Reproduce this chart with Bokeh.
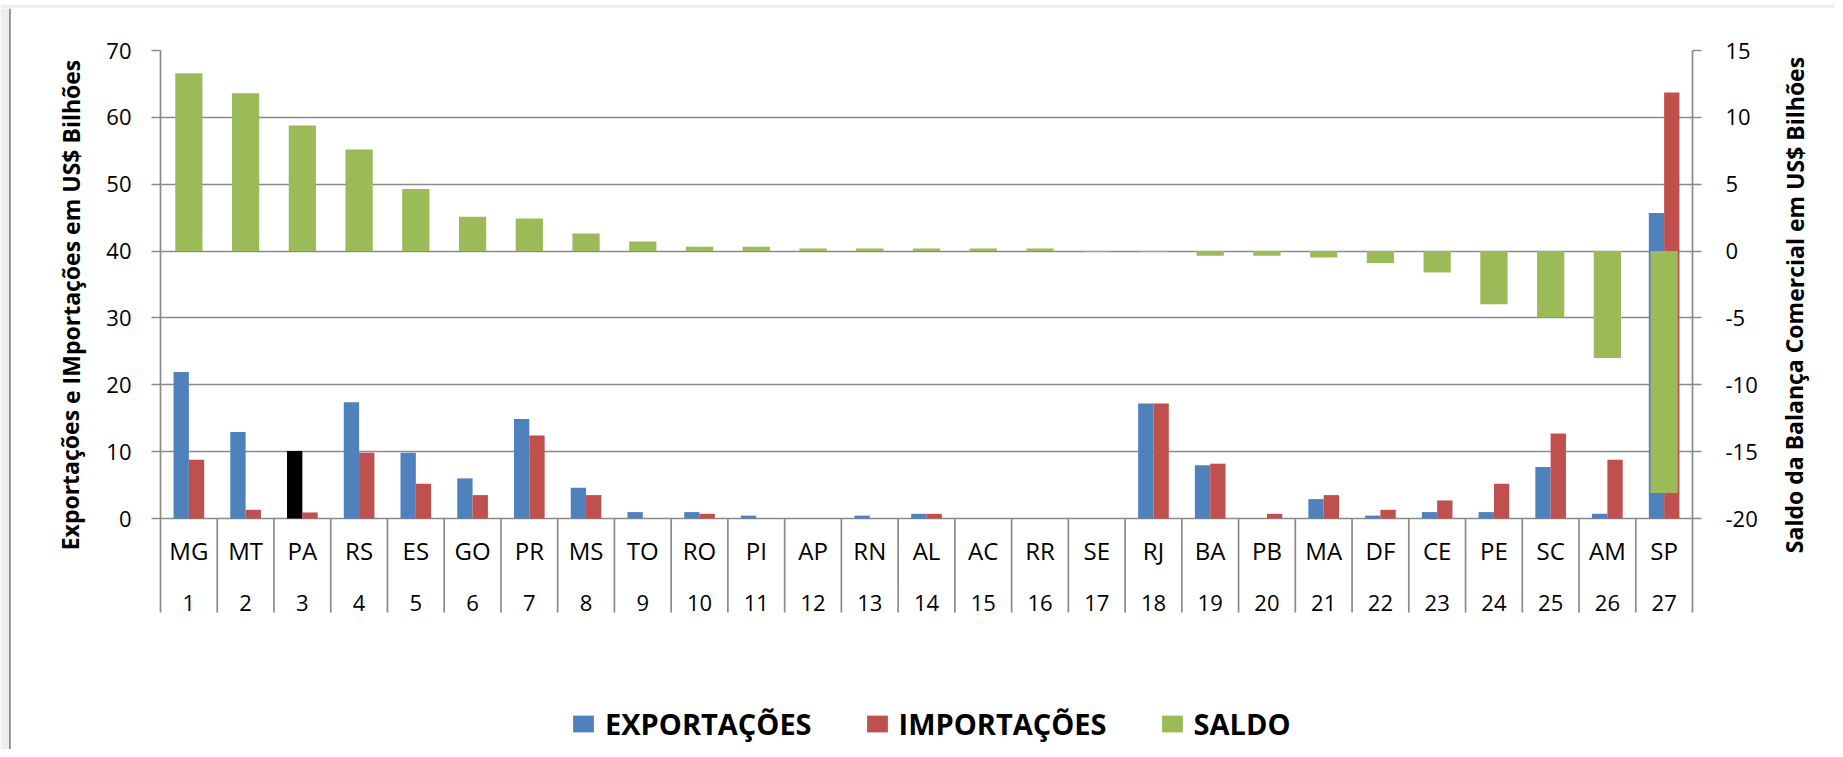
from bokeh.plotting import figure
from bokeh.layouts import row, column
from bokeh.models import (Range1d, LinearAxis, FixedTicker, Legend, LegendItem, ColumnDataSource,
                          CustomJSTickFormatter)
from bokeh.core.properties import value
from bokeh.embed import file_html
from bokeh.resources import INLINE

# ---------------- data ----------------
states = ["MG", "MT", "PA", "RS", "ES", "GO", "PR", "MS", "TO", "RO", "PI", "AP", "RN", "AL",
          "AC", "RR", "SE", "RJ", "BA", "PB", "MA", "DF", "CE", "PE", "SC", "AM", "SP"]
ranks = ["1", "2", "3", "4", "5", "6", "7", "8", "9", "10", "11", "12", "13", "14",
         "15", "16", "17", "18", "19", "20", "21", "22", "23", "24", "25", "26", "27"]
exportacoes = [21.9, 12.95, 10.1, 17.4, 9.85, 6.0, 14.9, 4.6, 0.96, 0.96, 0.43, 0.0, 0.43, 0.7,
               0.0, 0.0, 0.0, 17.2, 7.97, 0.0, 2.9, 0.43, 0.96, 0.96, 7.7, 0.7, 45.7]
importacoes = [8.8, 1.3, 0.9, 9.85, 5.2, 3.5, 12.4, 3.5, 0.0, 0.7, 0.0, 0.0, 0.0, 0.7,
               0.0, 0.0, 0.0, 17.2, 8.2, 0.7, 3.5, 1.3, 2.7, 5.2, 12.7, 8.8, 63.7]
saldo = [13.3, 11.8, 9.4, 7.6, 4.65, 2.57, 2.43, 1.31, 0.72, 0.32, 0.32, 0.19, 0.19, 0.2,
         0.2, 0.2, -0.05, -0.05, -0.35, -0.35, -0.48, -0.9, -1.6, -3.98, -4.95, -8.0, -18.1]
left_ticks = [0, 10, 20, 30, 40, 50, 60, 70]
right_ticks = [-20, -15, -10, -5, 0, 5, 10, 15]
series_names = ["EXPORTAÇÕES", "IMPORTAÇÕES", "SALDO"]
left_title = "Exportações e IMportações em US$ Bilhões"
right_title = "Saldo da Balança Comercial em US$ Bilhões"

# ---------------- style / layout (page pixels) ----------------
BLUE, RED, GREEN, BLACK = "#4F81BD", "#C0504D", "#9BBB59", "#000000"
GRID = "#8a8a8a"
PAGE_BG, FRAME_LINE = "#eceef0", "#8c8c8c"
FONT = "Open Sans"
PAGE_W, PAGE_H = 1835, 749
STRIP_H, LEFT_W, RIGHT_W = 8, 95, 65
FL, FR, FT = 160, 1692, 50          # plot frame left/right/top
ZERO_Y = 518.0                      # pixel of value 0
CAT_BOTTOM = 612.0                  # bottom of category separators
TITLE_CY = 304.5                    # vertical centre of the axis titles
LTITLE_X, RTITLE_X = 70, 1794
STATE_ROW, RANK_ROW = 550.0, 602.0

ppu_l = (ZERO_Y - FT) / (left_ticks[-1] - left_ticks[0])
ppu_r = (ZERO_Y - FT) / (right_ticks[-1] - right_ticks[0])
l_start = left_ticks[0] - (PAGE_H - ZERO_Y) / ppu_l
r_start = right_ticks[0] - (PAGE_H - ZERO_Y) / ppu_r
l_catb = left_ticks[0] - (CAT_BOTTOM - ZERO_Y) / ppu_l
r_catb = right_ticks[0] - (CAT_BOTTOM - ZERO_Y) / ppu_r

n = len(states)
centers = [i + 0.5 for i in range(n)]
bw = 0.27
exp_colors = [BLACK if s == "PA" else BLUE for s in states]

src = ColumnDataSource(dict(
    xe=[c - bw / 2 for c in centers], xi=[c + bw / 2 for c in centers], xc=centers,
    exp=exportacoes, imp=importacoes, sal=saldo, ec=exp_colors))


def no_align(f):
    if "frame_align" in f.properties():
        f.frame_align = False
    return f


MAIN_W = PAGE_W - LEFT_W - RIGHT_W
MAIN_H = PAGE_H - STRIP_H
p = figure(width=MAIN_W, height=MAIN_H, x_range=Range1d(0, n),
           y_range=Range1d(l_start, left_ticks[-1]), title=None,
           x_axis_type=None, output_backend="svg", toolbar_location=None,
           min_border_left=FL - LEFT_W, min_border_right=PAGE_W - RIGHT_W - FR,
           min_border_top=FT - STRIP_H, min_border_bottom=0)
no_align(p)
p.outline_line_color = None
p.background_fill_color = "white"
p.border_fill_color = "white"
p.extra_y_ranges = {"saldo": Range1d(r_start, right_ticks[-1])}

def style_axis(ax, ticks, bounds, standoff):
    ax.ticker = FixedTicker(ticks=ticks)
    ax.formatter = CustomJSTickFormatter(code="return tick.toFixed(0)")
    ax.bounds = bounds
    ax.axis_line_color = GRID
    ax.axis_line_width = 1.7
    ax.major_tick_line_color = GRID
    ax.major_tick_line_width = 1.7
    ax.major_tick_out = 9
    ax.major_tick_in = 0
    ax.minor_tick_line_color = None
    ax.major_label_text_font = FONT
    ax.major_label_text_font_size = "22px"
    ax.major_label_text_color = "black"
    ax.major_label_standoff = standoff

yl = p.yaxis[0]
style_axis(yl, left_ticks, (l_catb, left_ticks[-1]), 20)
yr = LinearAxis(y_range_name="saldo")
style_axis(yr, right_ticks, (r_catb, right_ticks[-1]), 24)
p.add_layout(yr, "right")

p.ygrid.grid_line_color = GRID
p.ygrid.grid_line_width = 1.7

# category separators
sep_x = list(range(1, n))
p.segment(x0=sep_x, x1=sep_x, y0=[l_catb] * (n - 1), y1=[0] * (n - 1),
          line_color=GRID, line_width=1.7)

r_exp = p.vbar(x="xe", top="exp", bottom=0, width=bw, source=src, fill_color="ec", line_color=None)
r_imp = p.vbar(x="xi", top="imp", bottom=0, width=bw, source=src, fill_color=RED, line_color=None)
r_sal = p.vbar(x="xc", top="sal", bottom=0, width=0.48, source=src, fill_color=GREEN,
               line_color=None, y_range_name="saldo")

# category labels (two rows)
st_y = -(STATE_ROW - ZERO_Y) / ppu_l
rk_y = -(RANK_ROW - ZERO_Y) / ppu_l
p.text(x=centers, y=[st_y] * n, text=states, text_font=value(FONT), text_font_size=value("24px"),
       text_align="center", text_baseline="middle", text_color="black")
p.text(x=centers, y=[rk_y] * n, text=ranks, text_font=value(FONT), text_font_size=value("22px"),
       text_align="center", text_baseline="middle", text_color="black")

legend = Legend(items=[LegendItem(label=series_names[0], renderers=[r_exp], index=0),
                       LegendItem(label=series_names[1], renderers=[r_imp], index=0),
                       LegendItem(label=series_names[2], renderers=[r_sal], index=0)],
                location=(410, 6), orientation="horizontal", padding=0, margin=0,
                spacing=52, label_standoff=9, glyph_width=26, glyph_height=21,
                border_line_color=None, background_fill_alpha=0,
                label_text_font=FONT, label_text_font_size="29px", label_text_font_style="bold",
                label_text_color="black")
p.add_layout(legend)


def blank(width, height, x0):
    f = figure(width=width, height=height, x_range=Range1d(x0, x0 + width),
               y_range=Range1d(0, height), x_axis_type=None, y_axis_type=None, title=None,
               output_backend="svg", toolbar_location=None,
               min_border=0, min_border_left=0, min_border_right=0,
               min_border_top=0, min_border_bottom=0)
    no_align(f)
    f.outline_line_color = None
    f.background_fill_color = "white"
    f.border_fill_color = "white"
    return f

# top strip: page background + frame line
strip = blank(PAGE_W, STRIP_H, 0)
strip.quad(left=[0], right=[PAGE_W], bottom=[0], top=[STRIP_H], fill_color=PAGE_BG, line_color=None)
strip.quad(left=[8.5], right=[PAGE_W], bottom=[0], top=[1.8], fill_color=FRAME_LINE, line_color=None)

# left column: frame line + left axis title
fl = blank(LEFT_W, MAIN_H, 0)
fl.quad(left=[0], right=[8.5], bottom=[0], top=[MAIN_H], fill_color=PAGE_BG, line_color=None)
fl.quad(left=[8.5], right=[10.3], bottom=[0], top=[MAIN_H], fill_color=FRAME_LINE, line_color=None)
fl.text(x=[LTITLE_X], y=[PAGE_H - TITLE_CY], text=[left_title], angle=1.5707963,
        text_font=value(FONT), text_font_size=value("23px"), text_font_style="bold",
        text_align="center", text_baseline="middle", text_color="black")

# right column: right axis title
fr = blank(RIGHT_W, MAIN_H, PAGE_W - RIGHT_W)
fr.text(x=[RTITLE_X], y=[PAGE_H - TITLE_CY], text=[right_title], angle=1.5707963,
        text_font=value(FONT), text_font_size=value("23px"), text_font_style="bold",
        text_align="center", text_baseline="middle", text_color="black")

layout = column(strip, row(fl, p, fr, spacing=0), spacing=0)

open("out.html", "w").write(file_html(layout, INLINE))
